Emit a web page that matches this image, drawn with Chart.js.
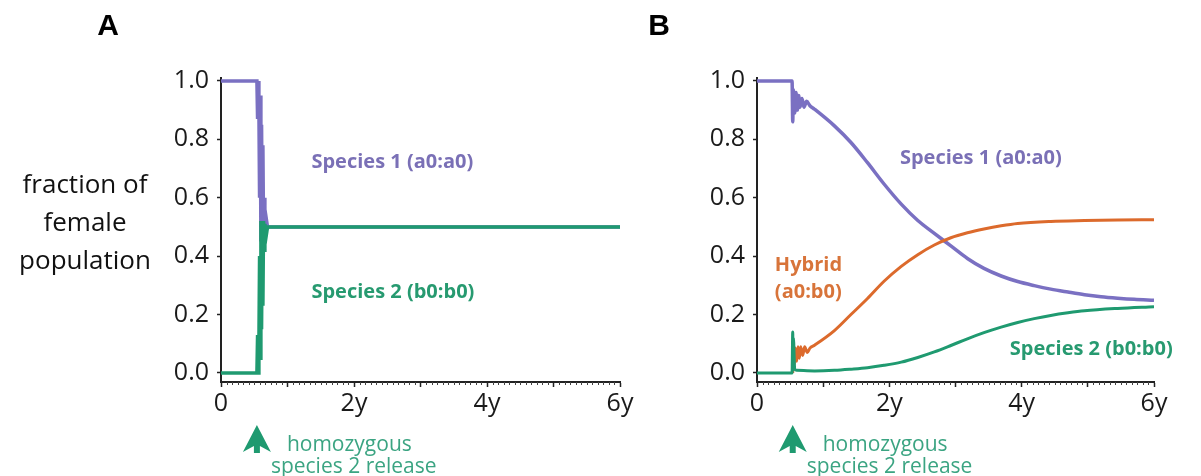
<!DOCTYPE html>
<html>
<head>
<meta charset="utf-8">
<script src="https://cdn.jsdelivr.net/npm/chart.js@4.4.0/dist/chart.umd.min.js"></script>
<style>
  body { margin: 0; background: #fff; }
  #wrap { position: relative; width: 1201px; height: 476px; overflow: hidden; }
  canvas { position: absolute; top: 0; }
  #chartA { left: 0; }
  #chartB { left: 640px; }
</style>
</head>
<body>
<div id="wrap">
  <canvas id="chartA" width="640" height="476"></canvas>
  <canvas id="chartB" width="561" height="476"></canvas>
</div>
<script>
// axes
const yTicks = [0, 0.2, 0.4, 0.6, 0.8, 1.0];
const yTickLabels = ['0.0', '0.2', '0.4', '0.6', '0.8', '1.0'];
const xTicks = [0, 1, 2, 3, 4, 5, 6];
const xTickLabels = ['0', '', '2y', '', '4y', '', '6y'];
const releaseTime = 0.54;   // years

// panel A (time in years)
const aTime     = [0, 0.54, 0.55, 0.56, 0.57, 0.58, 0.59, 0.60, 0.61, 0.62, 0.63, 0.64, 0.65, 0.66, 0.68, 0.70, 6];
const aSpecies1 = [1, 1, 0.87, 1, 0.90, 0.60, 0.95, 0.45, 0.85, 0.50, 0.78, 0.48, 0.60, 0.50, 0.53, 0.50, 0.50];
const aSpecies2 = [0, 0, 0.13, 0, 0.10, 0.40, 0.05, 0.52, 0.15, 0.50, 0.23, 0.52, 0.42, 0.51, 0.47, 0.50, 0.50];

// panel B
const bTime1    = [0, 0.53, 0.54, 0.55, 0.57, 0.59, 0.61, 0.63, 0.65, 0.68, 0.71, 0.75, 0.80, 0.87, 1.17, 1.42, 1.67, 1.92, 2.18, 2.43, 2.68, 2.93, 3.18, 3.43, 3.69, 3.94, 4.19, 4.44, 4.70, 4.95, 5.20, 5.45, 5.70, 6];
const bSpecies1 = [1, 1, 0.86, 0.97, 0.89, 0.96, 0.90, 0.95, 0.91, 0.94, 0.91, 0.93, 0.915, 0.903, 0.846, 0.789, 0.72, 0.647, 0.578, 0.522, 0.478, 0.435, 0.392, 0.358, 0.332, 0.313, 0.299, 0.287, 0.277, 0.268, 0.261, 0.256, 0.252, 0.249];
const bTimeH    = [0.54, 0.55, 0.56, 0.58, 0.60, 0.62, 0.64, 0.66, 0.69, 0.72, 0.76, 0.80, 0.87, 1.17, 1.42, 1.67, 1.92, 2.18, 2.43, 2.68, 2.93, 3.18, 3.43, 3.69, 3.94, 4.44, 4.95, 5.45, 6];
const bHybrid   = [0, 0.09, 0.03, 0.085, 0.04, 0.09, 0.05, 0.09, 0.06, 0.09, 0.07, 0.085, 0.095, 0.145, 0.2, 0.255, 0.314, 0.365, 0.405, 0.438, 0.463, 0.48, 0.493, 0.504, 0.512, 0.519, 0.522, 0.524, 0.525];
const bTime2    = [0, 0.53, 0.54, 0.545, 0.55, 0.57, 0.60, 0.87, 1.17, 1.42, 1.67, 1.92, 2.18, 2.43, 2.68, 2.93, 3.18, 3.43, 3.69, 3.94, 4.19, 4.44, 4.70, 4.95, 5.45, 6];
const bSpecies2 = [0, 0, 0.14, 0.01, 0.12, 0.012, 0.009, 0.007, 0.009, 0.013, 0.018, 0.026, 0.037, 0.053, 0.072, 0.094, 0.117, 0.138, 0.157, 0.173, 0.186, 0.197, 0.206, 0.213, 0.221, 0.227];

const PURPLE = '#7a70c2', GREEN = '#1f9a70', ORANGE = '#dc6a2c';
const PURPLE_TXT = '#7a70b6', GREEN_TXT = '#279a70', ORANGE_TXT = '#d8743a', NOTE = '#3ba482';
const tickFont = { family: 'Open Sans', size: 25 };

function pts(t, v) { return t.map((x, i) => ({ x: x, y: v[i] })); }

// lower order is drawn on top
function line(data, color, w, smooth, order) {
  return {
    data: data, borderColor: color, borderWidth: w, pointRadius: 0, order: order,
    tension: smooth ? 0.4 : 0, cubicInterpolationMode: smooth ? 'monotone' : 'default',
    fill: false
  };
}

// text, arrow and minor ticks on top of each panel
function notes(cfg) {
  return {
    id: 'notes',
    afterDraw(chart) {
      const ctx = chart.ctx, sx = chart.scales.x, sy = chart.scales.y;
      const base = chart.chartArea.bottom;
      ctx.save();
      // minor ticks (monthly)
      ctx.strokeStyle = '#444'; ctx.lineWidth = 1;
      for (let m = 1; m < 72; m++) {
        if (m % 12 === 0) continue;
        const px = Math.round(sx.getPixelForValue(m / 12)) + 0.5;
        ctx.beginPath(); ctx.moveTo(px, base); ctx.lineTo(px, base + 3); ctx.stroke();
      }
      // panel letter
      ctx.fillStyle = '#000';
      ctx.font = 'bold 30px "Liberation Sans", Arial';
      ctx.textAlign = 'center'; ctx.textBaseline = 'alphabetic';
      ctx.fillText(cfg.letter, cfg.letterX, 35);
      // y title
      if (cfg.yTitle) {
        ctx.font = '26px "Open Sans"';
        ctx.fillStyle = '#111'; ctx.textBaseline = 'middle';
        cfg.yTitle.forEach((s, i) => ctx.fillText(s, 85, 186 + i * 38));
      }
      // series labels
      ctx.textAlign = 'left'; ctx.textBaseline = 'middle';
      ctx.font = 'bold 20px "Open Sans"';
      cfg.labels.forEach(l => {
        ctx.fillStyle = l.color;
        ctx.fillText(l.text, sx.getPixelForValue(l.x), sy.getPixelForValue(l.y));
      });
      // release arrow
      const cx = sx.getPixelForValue(releaseTime);
      ctx.fillStyle = GREEN;
      ctx.beginPath();
      ctx.moveTo(cx, base + 43);
      ctx.lineTo(cx + 14, base + 70);
      ctx.lineTo(cx + 3, base + 64);
      ctx.lineTo(cx + 3, base + 71);
      ctx.lineTo(cx - 3, base + 71);
      ctx.lineTo(cx - 3, base + 64);
      ctx.lineTo(cx - 14, base + 70);
      ctx.closePath(); ctx.fill();
      ctx.fillStyle = NOTE; ctx.font = '21px "Open Sans"';
      ctx.textBaseline = 'alphabetic';
      ctx.fillText('homozygous', cx + 30, base + 69);
      ctx.fillText('species 2 release', cx + 14, base + 91);
      ctx.restore();
    }
  };
}

function options(yWidth, padRight) {
  return {
    responsive: false, animation: false,
    layout: { padding: { top: 78, right: padRight, left: 0, bottom: 0 } },
    plugins: { legend: { display: false }, tooltip: { enabled: false } },
    scales: {
      x: {
        type: 'linear', min: 0, max: 6,
        afterBuildTicks: s => { s.ticks = xTicks.map(v => ({ value: v })); },
        afterFit: s => { s.height = 94; },
        ticks: { callback: (v, i) => xTickLabels[i], font: tickFont, color: '#1a1a1a', padding: 2, maxRotation: 0, autoSkip: false },
        grid: { drawOnChartArea: false, drawTicks: true, tickLength: 5, tickColor: '#222', tickWidth: 1.5 },
        border: { display: true, color: '#222', width: 2 }
      },
      y: {
        type: 'linear', min: -0.031, max: 1.01,
        afterBuildTicks: s => { s.ticks = yTicks.map(v => ({ value: v })); },
        afterFit: s => { s.width = yWidth; },
        ticks: { callback: (v, i) => yTickLabels[i], font: tickFont, color: '#1a1a1a', padding: 8 },
        grid: { drawOnChartArea: false, drawTicks: true, tickLength: 4, tickColor: '#222', tickWidth: 1.5 },
        border: { display: true, color: '#222', width: 2 }
      }
    }
  };
}

new Chart(document.getElementById('chartA'), {
  type: 'line',
  data: {
    datasets: [
      line(pts(aTime, aSpecies1), PURPLE, 3.5, false, 2),
      line(pts(aTime, aSpecies2), GREEN, 3.5, false, 1)
    ]
  },
  options: options(221, 20),
  plugins: [notes({
    letter: 'A', letterX: 108,
    yTitle: ['fraction of', 'female', 'population'],
    labels: [
      { text: 'Species 1 (a0:a0)', x: 1.36, y: 0.72, color: PURPLE_TXT },
      { text: 'Species 2 (b0:b0)', x: 1.36, y: 0.277, color: GREEN_TXT }
    ]
  })]
});

new Chart(document.getElementById('chartB'), {
  type: 'line',
  data: {
    datasets: [
      line(pts(bTime1, bSpecies1), PURPLE, 3.5, true, 3),
      line(pts(bTimeH, bHybrid), ORANGE, 3, true, 2),
      line(pts(bTime2, bSpecies2), GREEN, 3, true, 1)
    ]
  },
  options: options(117, 47),
  plugins: [notes({
    letter: 'B', letterX: 19,
    labels: [
      { text: 'Species 1 (a0:a0)', x: 2.16, y: 0.735, color: PURPLE_TXT },
      { text: 'Hybrid', x: 0.27, y: 0.37, color: ORANGE_TXT },
      { text: '(a0:b0)', x: 0.27, y: 0.277, color: ORANGE_TXT },
      { text: 'Species 2 (b0:b0)', x: 3.82, y: 0.08, color: GREEN_TXT }
    ]
  })]
});
</script>
</body>
</html>
